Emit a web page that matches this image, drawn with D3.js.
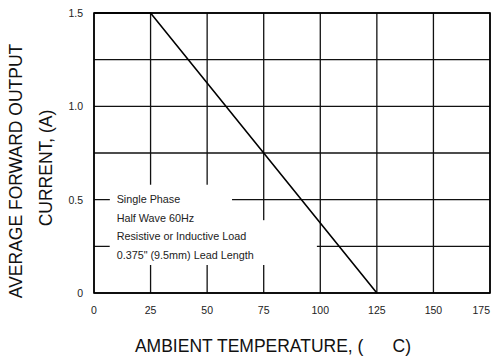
<!DOCTYPE html>
<style>
    body { margin: 0; background: #fff; }
    svg { font-family: "Liberation Sans", Arial, sans-serif; }
    .grid line { stroke: #111; stroke-width: 1.3px; }
    .frame { fill: none; stroke: #000; stroke-width: 1.6px; }
    .curve { fill: none; stroke: #000; stroke-width: 1.6px; }
    .tick-label { font-size: 10.5px; fill: #222; }
    .axis-title { font-size: 17.5px; fill: #111; white-space: pre; }
    .note { font-size: 10.8px; fill: #222; }
</style>
<body>
<script src="https://cdnjs.cloudflare.com/ajax/libs/d3/7.8.5/d3.min.js"></script>
<script>
    // derating curve
    var tempPoints = [0, 25, 125];
    var currentPoints = [1.5, 1.5, 0];

    var xTicks = [0, 25, 50, 75, 100, 125, 150, 175];
    var yGrid = [0, 0.25, 0.5, 0.75, 1.0, 1.25, 1.5];
    var yLabels = ["0", "0.5", "1.0", "1.5"];
    var noteLines = ["Single Phase", "Half Wave 60Hz", "Resistive or Inductive Load", "0.375\" (9.5mm) Lead Length"];

    var svg = d3.select("body").append("svg")
        .attr("width", 491)
        .attr("height", 358);

    var x = d3.scaleLinear().domain([0, 175]).range([94, 490]);
    var y = d3.scaleLinear().domain([0, 1.5]).range([293, 13]);

    var grid = svg.append("g").attr("class", "grid");
    grid.selectAll("line.v")
        .data(xTicks)
        .enter().append("line")
          .attr("class", "v")
          .attr("x1", function(d) { return x(d); })
          .attr("x2", function(d) { return x(d); })
          .attr("y1", y(0))
          .attr("y2", y(1.5));
    grid.selectAll("line.h")
        .data(yGrid)
        .enter().append("line")
          .attr("class", "h")
          .attr("x1", x(0))
          .attr("x2", x(175))
          .attr("y1", function(d) { return y(d); })
          .attr("y2", function(d) { return y(d); });

    // white boxes behind the note text (in data units)
    var maskBoxes = [
        {x0: 7, x1: 61, y0: 0.15, y1: 0.58},
        {x0: 7, x1: 98.5, y0: 0.15, y1: 0.39}
    ];
    svg.selectAll("rect.mask")
        .data(maskBoxes)
        .enter().append("rect")
          .attr("class", "mask")
          .attr("x", function(d) { return x(d.x0); })
          .attr("y", function(d) { return y(d.y1); })
          .attr("width", function(d) { return x(d.x1) - x(d.x0); })
          .attr("height", function(d) { return y(d.y0) - y(d.y1); })
          .attr("fill", "#fff");

    svg.append("rect")
        .attr("class", "frame")
        .attr("x", x(0))
        .attr("y", y(1.5))
        .attr("width", x(175) - x(0))
        .attr("height", y(0) - y(1.5));

    var line = d3.line()
        .x(function(d) { return x(d[0]); })
        .y(function(d) { return y(d[1]); });
    svg.append("path")
        .attr("class", "curve")
        .attr("d", line(d3.zip(tempPoints, currentPoints)));

    // tick labels
    svg.selectAll("text.xt")
        .data(xTicks)
        .enter().append("text")
          .attr("class", "tick-label xt")
          .attr("x", function(d, i) { return i == xTicks.length - 1 ? x(d) : x(d); })
          .attr("y", 314)
          .attr("text-anchor", function(d, i) { return i == xTicks.length - 1 ? "end" : "middle"; })
          .text(function(d) { return d; });
    svg.selectAll("text.yt")
        .data(yLabels)
        .enter().append("text")
          .attr("class", "tick-label yt")
          .attr("x", 83)
          .attr("y", function(d) { return y(+d) + 4; })
          .attr("text-anchor", "end")
          .text(function(d) { return d; });

    // note
    svg.selectAll("text.note")
        .data(noteLines)
        .enter().append("text")
          .attr("class", "note")
          .attr("x", x(10))
          .attr("y", function(d, i) { return 203 + i * 18.7; })
          .text(function(d) { return d; });

    // axis titles
    svg.append("text")
        .attr("class", "axis-title")
        .attr("x", 273)
        .attr("y", 352)
        .attr("text-anchor", "middle")
        .text("AMBIENT TEMPERATURE, (      C)");
    svg.append("text")
        .attr("class", "axis-title")
        .attr("transform", "translate(22,171) rotate(-90)")
        .attr("text-anchor", "middle")
        .text("AVERAGE FORWARD OUTPUT");
    svg.append("text")
        .attr("class", "axis-title")
        .attr("transform", "translate(52,168) rotate(-90)")
        .attr("text-anchor", "middle")
        .text("CURRENT, (A)");
</script>
</body>
